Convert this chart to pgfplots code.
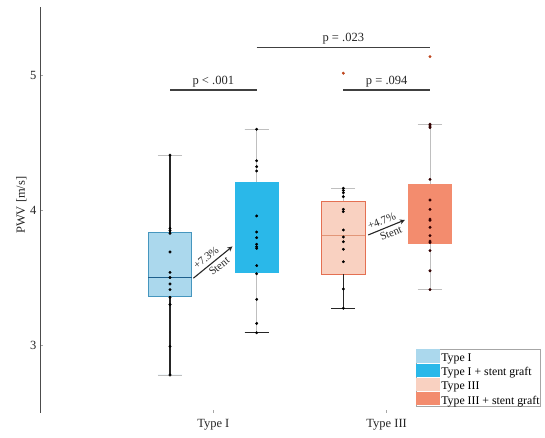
\documentclass[border=0pt]{standalone}
\usepackage{fontspec}
\setmainfont{Liberation Serif}
\usepackage{pgfplots}
\pgfplotsset{compat=1.18}
\usepgfplotslibrary{statistics}
\usetikzlibrary{arrows.meta}
\definecolor{tonefill}{RGB}{171,216,237}
\definecolor{toneedge}{RGB}{70,150,190}
\definecolor{tonemed}{RGB}{30,95,140}
\definecolor{ttwofill}{RGB}{42,184,233}
\definecolor{tthrfill}{RGB}{249,209,193}
\definecolor{tthredge}{RGB}{228,112,82}
\definecolor{tthrmed}{RGB}{226,150,120}
\definecolor{tfourfill}{RGB}{243,140,110}
\definecolor{outl}{RGB}{190,70,30}
\begin{document}
\begin{tikzpicture}[font=\fontsize{12.5}{15}\selectfont]
\useasboundingbox (0,0) rectangle (545pt,437pt);
\begin{axis}[
  at={(40pt,24.5pt)}, anchor=south west,
  scale only axis, width=520pt, height=405pt,
  xmin=-0.5, xmax=5.5, ymin=2.5, ymax=5.5,
  axis x line*=bottom, axis y line*=left,
  x axis line style={draw=none},
  y axis line style={draw=black!70, line width=0.8pt, -},
  xtick={1.5,3.5}, xticklabels={Type I, Type III},
  ytick={3,4,5},
  tick align=inside, major tick length=3pt,
  tick style={black!35, line width=0.5pt},
  xticklabel style={yshift=-3pt, text=black!85},
  yticklabel style={text=black!85},
  ylabel={PWV [m/s]},
  ylabel style={at={(axis description cs:-0.036,0.512)}, anchor=center, text=black!85},
  /pgf/number format/assume math mode=true,
  clip=false,
  boxplot/draw direction=y,
  legend style={at={(0.723,0.0143)}, anchor=south west, draw=black!35, line width=0.5pt,
    font=\fontsize{11.8}{13}\selectfont, inner sep=0pt, row sep=0pt, column sep=0.5pt,
    nodes={inner sep=0.6pt, anchor=west}, fill=white},
  legend cell align=left,
  legend image code/.code={\path[#1] (0pt,-4.2pt) rectangle (24pt,8.9pt);},
]
\addlegendimage{fill=tonefill, draw=none}
\addlegendentry{Type I}
\addlegendimage{fill=ttwofill, draw=none}
\addlegendentry{Type I + stent graft}
\addlegendimage{fill=tthrfill, draw=none}
\addlegendentry{Type III}
\addlegendimage{fill=tfourfill, draw=none}
\addlegendentry{Type III + stent graft}

% boxes
\addplot[forget plot, fill=tonefill, draw=toneedge, line width=0.6pt,
  boxplot prepared={draw position=1, draw direction=y, lower whisker=2.778, lower quartile=3.363,
    median=3.499, upper quartile=3.832, upper whisker=4.407,
    box extend=0.5, whisker extend=0.28,
    every whisker/.style={draw=black!25, line width=0.5pt},
    every median/.style={draw=tonemed, line width=0.9pt}}] coordinates {};
\addplot[forget plot, fill=ttwofill, draw=ttwofill, line width=0.6pt,
  boxplot prepared={draw position=2, draw direction=y, lower whisker=3.091, lower quartile=3.538,
    median=3.78, upper quartile=4.202, upper whisker=4.598,
    box extend=0.5, whisker extend=0.28,
    every whisker/.style={draw=black!25, line width=0.5pt},
    every median/.style={draw=ttwofill}}] coordinates {};
\addplot[forget plot, fill=tthrfill, draw=tthredge, line width=0.7pt,
  boxplot prepared={draw position=3, draw direction=y, lower whisker=3.272, lower quartile=3.526,
    median=3.81, upper quartile=4.067, upper whisker=4.161,
    box extend=0.5, whisker extend=0.28,
    every whisker/.style={draw=black!25, line width=0.5pt},
    every median/.style={draw=tthrmed, line width=0.6pt}}] coordinates {};
\addplot[forget plot, fill=tfourfill, draw=tfourfill, line width=0.6pt,
  boxplot prepared={draw position=4, draw direction=y, lower whisker=3.41, lower quartile=3.75,
    median=3.87, upper quartile=4.188, upper whisker=4.635,
    box extend=0.5, whisker extend=0.28,
    every whisker/.style={draw=black!25, line width=0.5pt},
    every median/.style={draw=tfourfill}}] coordinates {};

% dark whisker segments
\addplot[forget plot, black!85, line width=1.1pt] coordinates {(1,2.778) (1,3.363)};
\addplot[forget plot, black!85, line width=1.1pt] coordinates {(1,3.832) (1,4.407)};
\addplot[forget plot, black!85, line width=1.1pt] coordinates {(1.86,3.091) (2.14,3.091)};
\addplot[forget plot, black!85, line width=1.1pt] coordinates {(3,3.272) (3,3.526)};
\addplot[forget plot, black!85, line width=1.1pt] coordinates {(2.86,3.272) (3.14,3.272)};

% data points
\addplot[forget plot, only marks, mark=*, mark size=1.25pt, black] coordinates {
(1,4.407) (1,3.864) (1,3.847) (1,3.827) (1,3.689) (1,3.538) (1,3.50) (1,3.452)
(1,3.41) (1,3.353) (1,3.30) (1,2.99) (1,2.778)};
\addplot[forget plot, only marks, mark=*, mark size=1.25pt, black] coordinates {
(2,4.598) (2,4.365) (2,4.321) (2,4.289) (2,3.956) (2,3.837) (2,3.795) (2,3.746)
(2,3.728) (2,3.716) (2,3.588) (2,3.528) (2,3.338) (2,3.16) (2,3.091)};
\addplot[forget plot, only marks, mark=*, mark size=1.25pt, black] coordinates {
(3,4.161) (3,4.145) (3,4.128) (3,4.099) (3,4.005) (3,3.988) (3,3.852) (3,3.80)
(3,3.765) (3,3.709) (3,3.617) (3,3.415) (3,3.272)};
\addplot[forget plot, only marks, mark=*, mark size=1.25pt, black!80!red] coordinates {
(4,4.635) (4,4.622) (4,4.61) (4,4.227) (4,4.074) (4,4.005) (4,3.933) (4,3.923)
(4,3.872) (4,3.81) (4,3.77) (4,3.758) (4,3.699) (4,3.55) (4,3.41)};
\addplot[forget plot, only marks, mark=*, mark size=1.3pt, outl] coordinates {
(3,5.013) (4,5.136)};

% significance brackets
\draw[line width=1.3pt, black!75] (axis cs:1,4.889) -- (axis cs:2,4.889)
  node[midway, above, inner sep=2.5pt, text=black!85] {p < .001};
\draw[line width=1.3pt, black!75] (axis cs:3,4.889) -- (axis cs:4,4.889)
  node[midway, above, inner sep=2.5pt, text=black!85] {p = .094};
\draw[line width=1.3pt, black!75] (axis cs:2,5.205) -- (axis cs:4,5.205)
  node[midway, above, inner sep=2.5pt, text=black!85] {p = .023};

% arrows
\draw[-{Stealth[length=5pt,width=5pt]}, line width=1.1pt, black!85]
  (axis cs:1.27,3.495) -- (axis cs:1.72,3.73)
  node[pos=0.45, sloped, above, inner sep=3.5pt, font=\fontsize{11}{13}\selectfont] {+7.3\%}
  node[pos=0.55, sloped, below, inner sep=2.5pt, font=\fontsize{11}{13}\selectfont] {Stent};
\draw[-{Stealth[length=5pt,width=5pt]}, line width=1.1pt, black!85]
  (axis cs:3.287,3.815) -- (axis cs:3.709,3.926)
  node[pos=0.45, sloped, above, inner sep=3.5pt, font=\fontsize{11}{13}\selectfont] {+4.7\%}
  node[pos=0.55, sloped, below, inner sep=2.5pt, font=\fontsize{11}{13}\selectfont] {Stent};
\end{axis}
\end{tikzpicture}
\end{document}
